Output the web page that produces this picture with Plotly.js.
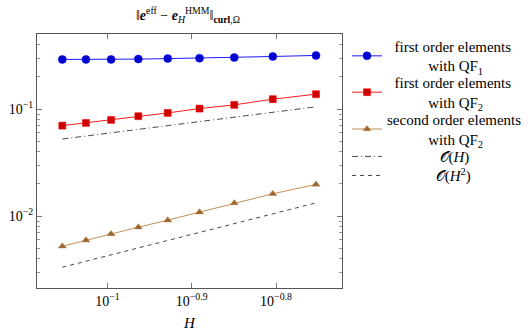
<!DOCTYPE html>
<html>
<head>
<meta charset="utf-8">
<script src="https://cdn.plot.ly/plotly-3.0.1.min.js"></script>
<style>html,body{margin:0;padding:0;background:#fff;}</style>
</head>
<body>
<div id="chart" style="width:528px;height:334px;"></div>
<script>
// Mesh sizes H and curl-norm errors of the HMM approximation
const meshH = [0.0884, 0.0943, 0.1010, 0.1088, 0.1179, 0.1286, 0.1414, 0.1571, 0.1768];
const errFirstQF1 = [0.292, 0.292, 0.292, 0.294, 0.297, 0.300, 0.304, 0.311, 0.318];
const errFirstQF2 = [0.0702, 0.0744, 0.0794, 0.0860, 0.0923, 0.1013, 0.1097, 0.1241, 0.1382];
const errSecondQF2 = [0.00523, 0.00596, 0.00682, 0.00788, 0.00917, 0.0109, 0.01324, 0.01618, 0.0198];

// Reference slopes (straight lines in log-log, given by their end points)
const refH = [0.0884, 0.1768];
const refOrder1 = [0.0526, 0.1052];
const refOrder2 = [0.00333, 0.0133];

// Tick labels
const xTickVals = [0.1, 0.12589, 0.15849];
const xTickText = ['10<sup>−1</sup>', '10<sup>−0.9</sup>', '10<sup>−0.8</sup>'];
const yTickVals = [0.01, 0.1];
const yTickText = ['10<sup>−2</sup>', '10<sup>−1</sup>'];
const yMinorVals = [0.003, 0.004, 0.005, 0.006, 0.007, 0.008, 0.009,
                    0.02, 0.03, 0.04, 0.05, 0.06, 0.07, 0.08, 0.09,
                    0.2, 0.3, 0.4, 0.5];

const NB = '\u00a0';
const pad = n => NB.repeat(n);

const serif = 'Liberation Serif, Times New Roman, serif';

const traces = [
  {
    x: meshH, y: errFirstQF1, mode: 'lines+markers', type: 'scatter', legend: 'legend',
    name: pad(2) + 'first order elements<br>' + pad(11) + 'with QF<sub>1</sub>',
    line: {color: '#0000ff', width: 0.9},
    marker: {symbol: 'circle', size: 8, color: '#0000cc', line: {color: '#0000ff', width: 0.5}}
  },
  {
    x: meshH, y: errFirstQF2, mode: 'lines+markers', type: 'scatter', legend: 'legend2',
    name: pad(2) + 'first order elements<br>' + pad(11) + 'with QF<sub>2</sub>',
    line: {color: '#ff0000', width: 0.9},
    marker: {symbol: 'square', size: 7, color: '#cc0000', line: {color: '#ff0000', width: 0.5}}
  },
  {
    x: meshH, y: errSecondQF2, mode: 'lines+markers', type: 'scatter', legend: 'legend3',
    name: 'second order elements<br>' + pad(11) + 'with QF<sub>2</sub>',
    line: {color: '#bf8040', width: 0.9},
    marker: {symbol: 'triangle-up', size: 7, color: '#996633', line: {color: '#bf8040', width: 0.5}}
  },
  {
    x: refH, y: refOrder1, mode: 'lines', type: 'scatter', legend: 'legend4',
    name: pad(14) + '𝒪(<i>H</i>)',
    line: {color: '#333333', width: 0.9, dash: '6px,3px,1px,3px'}
  },
  {
    x: refH, y: refOrder2, mode: 'lines', type: 'scatter', legend: 'legend5',
    name: pad(13) + '𝒪(<i>H</i><sup>2</sup>)',
    line: {color: '#333333', width: 0.9, dash: '4px,4px'}
  }
];

// one legend box per entry so that each row sits at its own height
const legendBox = yc => ({
  x: 1.0164, xanchor: 'left', y: yc, yanchor: 'middle',
  font: {family: serif, size: 15, color: '#000'},
  bgcolor: 'rgba(0,0,0,0)', borderwidth: 0,
  itemwidth: 30, valign: 'middle'
});

const layout = {
  width: 528, height: 334,
  margin: {l: 37, r: 186, t: 34, b: 46, pad: 0, autoexpand: false},
  paper_bgcolor: '#ffffff', plot_bgcolor: '#ffffff',
  font: {family: serif, size: 14, color: '#000000'},
  title: {
    text: '‖<b><i>e</i></b><sup>eff</sup> − <b><i>e</i></b><sub><i>H</i></sub><sup>HMM</sup>‖<sub><b>curl</b>,Ω</sub>',
    x: 0.356, xanchor: 'center', y: 0.955, yanchor: 'middle',
    font: {family: serif, size: 14}
  },
  xaxis: {
    type: 'log', range: [-1.0836, -0.7217],
    tickvals: xTickVals, ticktext: xTickText,
    ticks: 'inside', ticklen: 5, tickwidth: 0.8, tickcolor: '#555',
    showline: true, linecolor: '#555', linewidth: 1, mirror: 'allticks',
    showgrid: false, zeroline: false,
    tickfont: {family: serif, size: 14},
    title: {text: '<i>H</i>', font: {family: serif, size: 15}, standoff: 9}
  },
  yaxis: {
    type: 'log', range: [-2.672, -0.297],
    tickvals: yTickVals, ticktext: yTickText,
    ticks: 'inside', ticklen: 5, tickwidth: 0.8, tickcolor: '#555',
    showline: true, linecolor: '#555', linewidth: 1, mirror: 'allticks',
    showgrid: false, zeroline: false,
    tickfont: {family: serif, size: 14},
    minor: {tickvals: yMinorVals, ticks: 'inside', ticklen: 3, tickwidth: 0.6, tickcolor: '#555', showgrid: false}
  },
  legend: legendBox(0.914),
  legend2: legendBox(0.771),
  legend3: legendBox(0.626),
  legend4: legendBox(0.517),
  legend5: legendBox(0.442),
  showlegend: true
};

Plotly.newPlot('chart', traces, layout, {staticPlot: true, displayModeBar: false});
</script>
</body>
</html>
